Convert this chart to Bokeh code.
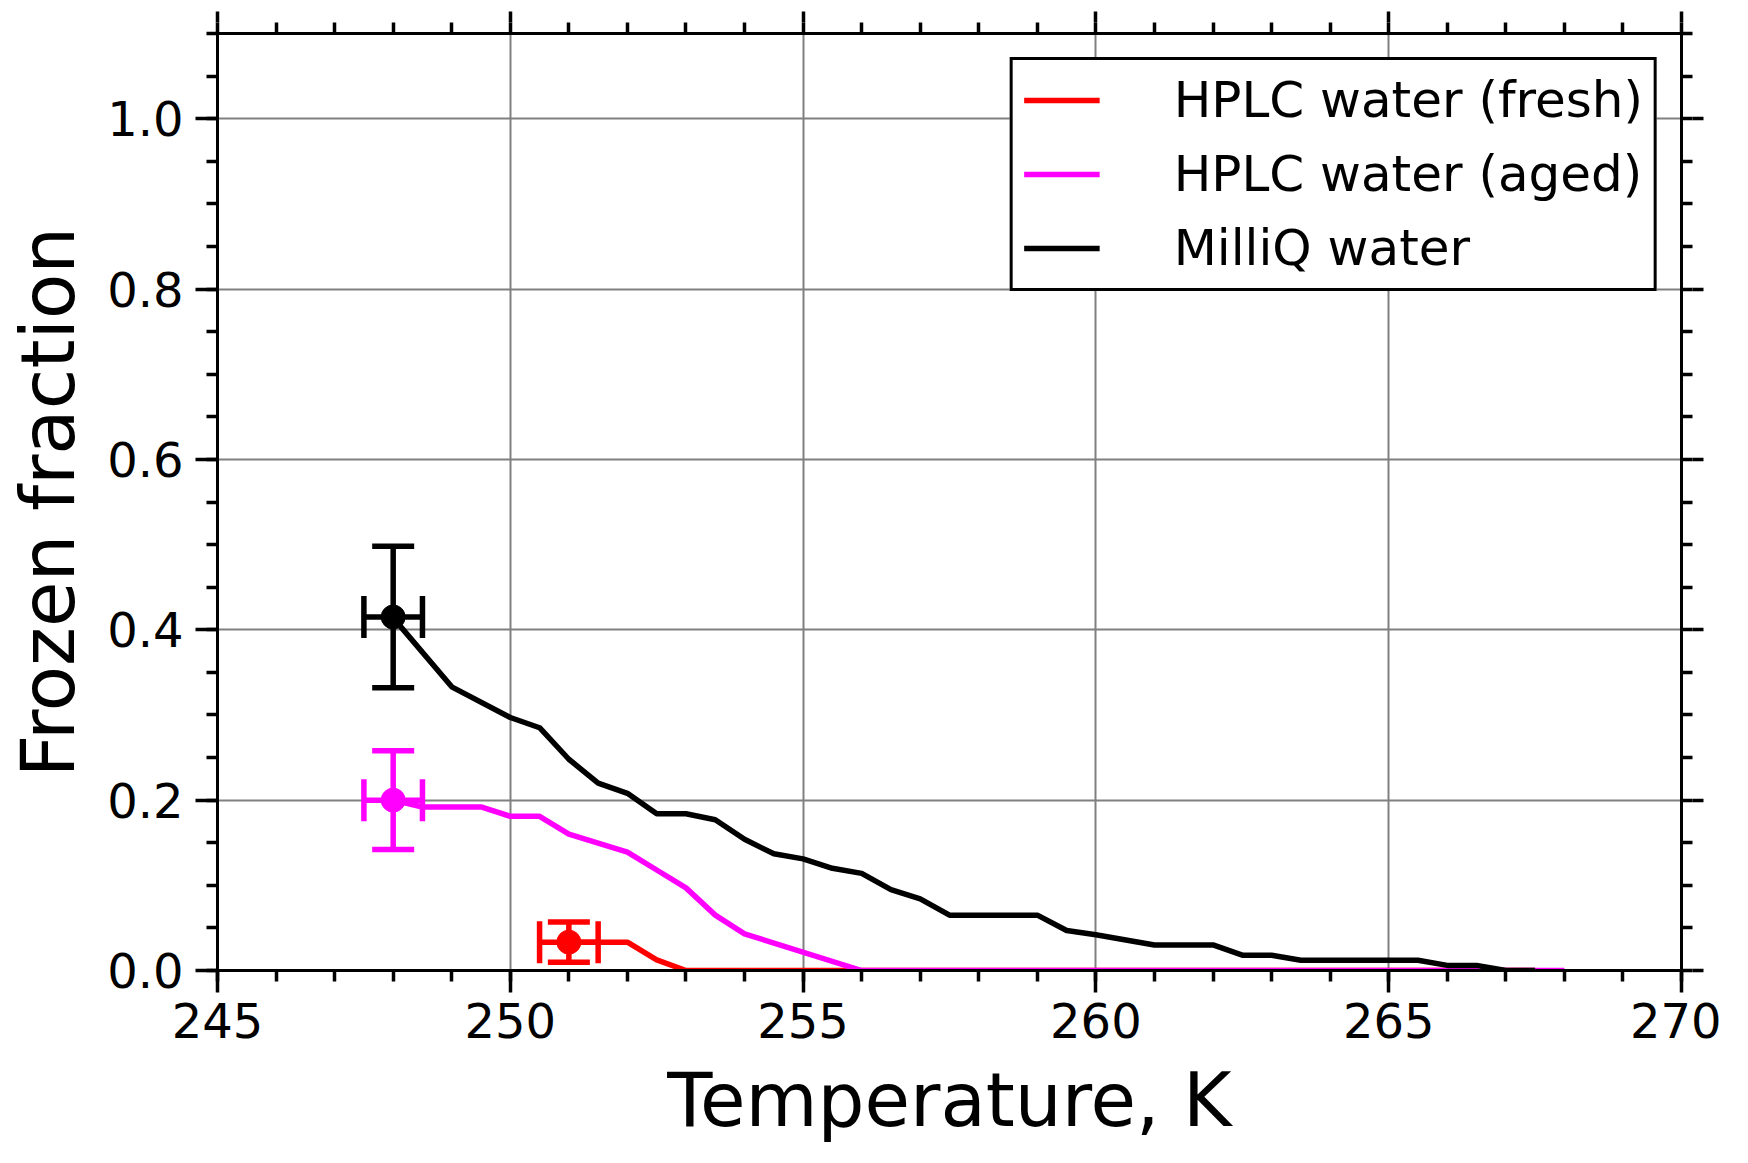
from bokeh.plotting import figure
from bokeh.models import (Range1d, FixedTicker, PrintfTickFormatter, LinearAxis, Legend, LegendItem,
                          ColumnDataSource, Whisker, TeeHead)
from bokeh.embed import file_html
from bokeh.resources import INLINE

# ---- data ----
milliq_T = [248, 249, 250, 250.5, 251, 251.5, 252, 252.5, 253, 253.5, 254, 254.5, 255, 255.5, 256,
            256.5, 257, 257.5, 259, 259.5, 260, 261, 262, 262.5, 263, 263.5, 265.5, 266, 266.5, 267, 267.5]
milliq_f = [0.414, 0.333, 0.297, 0.285, 0.248, 0.220, 0.208, 0.184, 0.184, 0.177, 0.154, 0.137, 0.131, 0.120, 0.114,
            0.095, 0.084, 0.065, 0.065, 0.047, 0.042, 0.030, 0.030, 0.018, 0.018, 0.012, 0.012, 0.006, 0.006, 0.0, 0.0]

aged_T = [248, 248.5, 249.5, 250, 250.5, 251, 252, 252.5, 253, 253.5, 254, 256, 268]
aged_f = [0.200, 0.192, 0.192, 0.181, 0.181, 0.160, 0.139, 0.118, 0.097, 0.065, 0.043, 0.0, 0.0]

fresh_T = [251, 252, 252.5, 253, 267.5]
fresh_f = [0.0333, 0.0333, 0.0125, 0.0, 0.0]

# error-bar points: T, fraction, T error, fraction error
err_T = [251.0, 248.0, 248.0]
err_f = [0.0333, 0.200, 0.415]
err_dT = [0.5, 0.5, 0.5]
err_df = [0.0235, 0.058, 0.083]

labels = ["HPLC water (fresh)", "HPLC water (aged)", "MilliQ water"]
colors = ["#ff0000", "#ff00ff", "#000000"]

x_major = [245, 250, 255, 260, 265, 270]
x_minor = list(range(245, 271))
y_major = [0.0, 0.2, 0.4, 0.6, 0.8, 1.0]
y_minor = [round(0.05 * i, 2) for i in range(23)]

FONT = "DejaVu Sans"
LW = 5.5
X0, X1, Y0, Y1 = 245, 270, 0, 1.1

p = figure(frame_width=1464, frame_height=937,
           min_border_left=217, min_border_right=40, min_border_top=33, min_border_bottom=175,
           x_range=Range1d(X0, X1), y_range=Range1d(Y0, Y1),
           output_backend="svg", toolbar_location=None)
p.background_fill_color = "white"
p.border_fill_color = "white"
p.outline_line_color = "black"
p.outline_line_width = 3

xt = FixedTicker(ticks=x_major, minor_ticks=x_minor)
yt = FixedTicker(ticks=y_major, minor_ticks=y_minor)

def style_ticks(ax):
    ax.axis_line_width = 3
    ax.axis_line_color = "black"
    ax.major_tick_in = 0
    ax.major_tick_out = 22
    ax.minor_tick_in = 0
    ax.minor_tick_out = 11
    ax.major_tick_line_width = 3.5
    ax.minor_tick_line_width = 3.5
    ax.major_tick_line_color = "black"
    ax.minor_tick_line_color = "black"

for ax in (p.xaxis[0], p.yaxis[0]):
    style_ticks(ax)
    ax.major_label_text_font = FONT
    ax.major_label_text_font_size = "48px"
    ax.major_label_text_color = "black"
    ax.axis_label_text_font = FONT
    ax.axis_label_text_font_size = "74px"
    ax.axis_label_text_font_style = "normal"
    ax.axis_label_text_color = "black"

p.xaxis.ticker = xt
p.yaxis.ticker = yt
p.yaxis.formatter = PrintfTickFormatter(format="%.1f")
p.xaxis.axis_label = "Temperature, K"
p.yaxis.axis_label = "Frozen fraction"
p.xaxis.major_label_standoff = 10
p.yaxis.major_label_standoff = 12
p.xaxis.axis_label_standoff = 16
p.yaxis.axis_label_standoff = 13

# mirrored ticks on the top and right edges (ticks only, no labels):
# an inner axis with 11px ticks at every position, and an outer axis
# stacked on it that extends the ticks at the major positions to 22px.
def edge_axis(positions, length, draw_line):
    ax = LinearAxis(ticker=FixedTicker(ticks=[], minor_ticks=positions))
    ax.major_tick_in = 0
    ax.major_tick_out = 0
    ax.minor_tick_in = 0
    ax.minor_tick_out = length
    ax.minor_tick_line_width = 3.5
    ax.minor_tick_line_color = "black"
    ax.axis_line_color = "black" if draw_line else None
    ax.axis_line_width = 3
    ax.major_label_standoff = 0
    ax.axis_label_standoff = 0
    return ax

p.add_layout(edge_axis(x_minor, 11, True), "above")
p.add_layout(edge_axis(x_major, 11, False), "above")
p.add_layout(edge_axis(y_minor, 11, True), "right")
p.add_layout(edge_axis(y_major, 11, False), "right")

p.xgrid.ticker = xt
p.ygrid.ticker = yt
for g in (p.xgrid[0], p.ygrid[0]):
    g.grid_line_color = "#808080"
    g.grid_line_width = 2

r_fresh = p.line(fresh_T, fresh_f, line_color=colors[0], line_width=LW, line_join="round")
r_aged = p.line(aged_T, aged_f, line_color=colors[1], line_width=LW, line_join="round")
r_milliq = p.line(milliq_T, milliq_f, line_color=colors[2], line_width=LW, line_join="round")

for i in range(3):
    c = colors[i]
    src = ColumnDataSource(dict(
        x=[err_T[i]], y=[err_f[i]],
        ylo=[err_f[i] - err_df[i]], yhi=[err_f[i] + err_df[i]],
        xlo=[err_T[i] - err_dT[i]], xhi=[err_T[i] + err_dT[i]]))
    wy = Whisker(source=src, base="x", lower="ylo", upper="yhi", dimension="height",
                 line_color=c, line_width=LW,
                 lower_head=TeeHead(size=42, line_color=c, line_width=LW),
                 upper_head=TeeHead(size=42, line_color=c, line_width=LW))
    wx = Whisker(source=src, base="y", lower="xlo", upper="xhi", dimension="width",
                 line_color=c, line_width=LW,
                 lower_head=TeeHead(size=42, line_color=c, line_width=LW),
                 upper_head=TeeHead(size=42, line_color=c, line_width=LW))
    p.add_layout(wy)
    p.add_layout(wx)
    p.scatter("x", "y", source=src, size=24, marker="circle", fill_color=c, line_color=c)

legend = Legend(items=[LegendItem(label=labels[0], renderers=[r_fresh]),
                       LegendItem(label=labels[1], renderers=[r_aged]),
                       LegendItem(label=labels[2], renderers=[r_milliq])],
                location="top_right")
legend.margin = 24
legend.padding = 11
legend.spacing = 16
legend.glyph_width = 76
legend.glyph_height = 50
legend.label_standoff = 74
legend.label_text_font = FONT
legend.label_text_font_size = "50px"
legend.label_text_color = "black"
legend.border_line_color = "black"
legend.border_line_width = 3.5
legend.border_line_alpha = 1
legend.background_fill_color = "white"
legend.background_fill_alpha = 1
p.add_layout(legend)

open("out.html", "w").write(file_html(p, INLINE))
